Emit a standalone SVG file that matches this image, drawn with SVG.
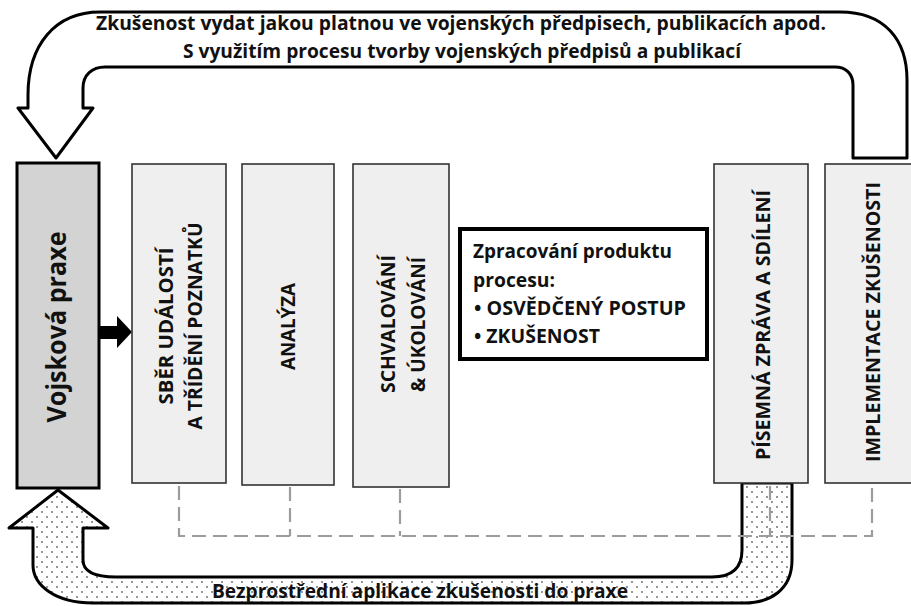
<svg xmlns="http://www.w3.org/2000/svg" width="911" height="606" viewBox="0 0 911 606">
<style>
text{font-family:"Open Sans","Liberation Sans",sans-serif;font-weight:700;fill:#111;}
.t18{font-size:19px;}
.box{fill:#efefef;stroke:#333;stroke-width:1.6;}
.dash{fill:none;stroke:#9c9c9c;stroke-width:2.2;stroke-dasharray:14 7;}
.band{stroke:#000;stroke-width:3;stroke-linejoin:round;}
</style>
<defs>
<pattern id="dots" width="10" height="10" patternUnits="userSpaceOnUse">
<rect width="10" height="10" fill="#fff"/>
<circle cx="2" cy="2" r="0.9" fill="#666"/>
<circle cx="7" cy="7" r="0.9" fill="#666"/>
</pattern>
</defs>
<rect width="911" height="606" fill="#fff"/>

<g id="connectors">
<path id="top-arrow" class="band" fill="#fff" d="M56,158 L18,108 L28,108 L28,95 C28,45 55,12 100,12 L840,12 C885,12 907,40 907,80 L907,158 L853,158 L853,85 C853,74 846,67 835,67 L105,67 C92,67 83,75 83,88 L83,108 L93,108 Z"/>
<path id="bottom-arrow" class="band" fill="url(#dots)" d="M58,490 L108,528 L83,528 L83,560 C83,572 95,577 116,577 L712,577 C732,577 742,568 742,550 L742,483 L792,483 L792,560 C792,590 770,603 744,603 L93,603 C55,603 33,585 33,565 L33,528 L9,528 Z"/>
<path class="dash" d="M179,486 L179,536 L872,536 L872,486"/>
<path class="dash" d="M290,487 L290,536"/>
<path class="dash" d="M400,489 L400,536"/>
<path class="dash" d="M770,486 L770,536"/>
<polygon id="black-arrow" points="99,326 117,326 117,316 132,332 117,348 117,339 99,339" fill="#000"/>
<text class="t18" x="96" y="30" textLength="730" lengthAdjust="spacingAndGlyphs">Zkušenost vydat jakou platnou ve vojenských předpisech, publikacích apod.</text>
<text class="t18" x="183" y="58" textLength="558" lengthAdjust="spacingAndGlyphs">S využitím procesu tvorby vojenských předpisů a publikací</text>
<text class="t18" x="212" y="598" textLength="416" lengthAdjust="spacingAndGlyphs">Bezprostřední aplikace zkušenosti do praxe</text>
</g>

<g id="node-vojskova">
<rect x="17" y="163" width="82" height="325" fill="#d3d3d3" stroke="#000" stroke-width="3"/>
<text transform="translate(66,327) rotate(-90)" text-anchor="middle" font-size="26" textLength="191" lengthAdjust="spacingAndGlyphs">Vojsková praxe</text>
</g>

<g id="node-sber">
<rect class="box" x="132" y="164" width="94" height="319"/>
<text class="t18" transform="translate(173,326) rotate(-90)" text-anchor="middle" textLength="157" lengthAdjust="spacingAndGlyphs">SBĚR UDÁLOSTÍ</text>
<text class="t18" transform="translate(202,326) rotate(-90)" text-anchor="middle" textLength="207" lengthAdjust="spacingAndGlyphs">A TŘÍDĚNÍ POZNATKŮ</text>
</g>

<g id="node-analyza">
<rect class="box" x="242" y="164" width="92" height="321"/>
<text class="t18" transform="translate(295,326.5) rotate(-90)" text-anchor="middle" textLength="87" lengthAdjust="spacingAndGlyphs">ANALÝZA</text>
</g>

<g id="node-schvalovani">
<rect class="box" x="353" y="164" width="96" height="323"/>
<text class="t18" transform="translate(395,324) rotate(-90)" text-anchor="middle" textLength="138" lengthAdjust="spacingAndGlyphs">SCHVALOVÁNÍ</text>
<text class="t18" transform="translate(425,324.5) rotate(-90)" text-anchor="middle" textLength="135" lengthAdjust="spacingAndGlyphs">&amp; ÚKOLOVÁNÍ</text>
</g>

<g id="node-zpracovani">
<rect x="460" y="229" width="247" height="130" fill="#fff" stroke="#000" stroke-width="4"/>
<text class="t18" x="473" y="258" textLength="199" lengthAdjust="spacingAndGlyphs">Zpracování produktu</text>
<text class="t18" x="473" y="287" textLength="82" lengthAdjust="spacingAndGlyphs">procesu:</text>
<text class="t18" x="474" y="315" textLength="212" lengthAdjust="spacingAndGlyphs">• OSVĚDČENÝ POSTUP</text>
<text class="t18" x="474" y="343" textLength="126" lengthAdjust="spacingAndGlyphs">• ZKUŠENOST</text>
</g>

<g id="node-pisemna">
<rect class="box" x="714" y="164" width="94" height="319"/>
<text class="t18" transform="translate(770,325) rotate(-90)" text-anchor="middle" textLength="270" lengthAdjust="spacingAndGlyphs">PÍSEMNÁ ZPRÁVA A SDÍLENÍ</text>
</g>

<g id="node-implementace">
<rect class="box" x="825" y="164" width="100" height="319"/>
<text class="t18" transform="translate(880,322) rotate(-90)" text-anchor="middle" textLength="280" lengthAdjust="spacingAndGlyphs">IMPLEMENTACE ZKUŠENOSTI</text>
</g>
</svg>
